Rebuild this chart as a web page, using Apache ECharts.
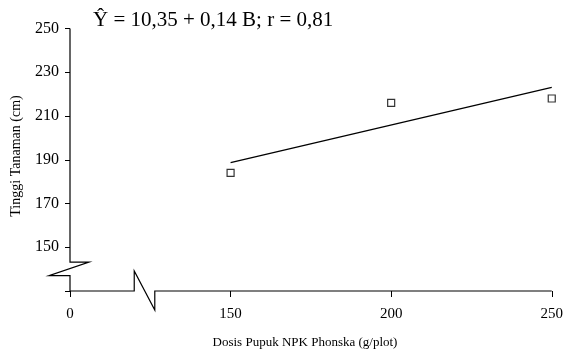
<!DOCTYPE html>
<html>
<head>
<meta charset="utf-8">
<script src="https://cdn.jsdelivr.net/npm/echarts@6/dist/echarts.min.js"></script>
<style>
html,body{margin:0;padding:0;background:#fff;}
#c{width:566px;height:358px;}
</style>
</head>
<body>
<div id="c"></div>
<script>
// ---- data ----
const doses = [150, 200, 250];
const heights = [184, 216, 218];
const fitX = [150, 250];
const fitY = [188.7, 223.1];
// x axis: position 100 on the (broken) axis is labelled "0"
const xTickValues = [100, 150, 200, 250];
const xTickLabels = ['0', '150', '200', '250'];
const yTickLabels = ['150', '170', '190', '210', '230', '250'];
const equation = 'Ŷ = 10,35 + 0,14 B; r = 0,81';
const xName = 'Dosis Pupuk NPK Phonska (g/plot)';
const yName = 'Tinggi Tanaman (cm)';

const FONT = 'Liberation Serif';
const chart = echarts.init(document.getElementById('c'));

chart.setOption({
  animation: false,
  backgroundColor: '#fff',
  grid: {left: 70, right: 13, top: 28.5, bottom: 67},
  title: {
    text: equation,
    left: 88, top: 5,
    textStyle: {fontFamily: FONT, fontSize: 21, fontWeight: 'normal', color: '#000'}
  },
  xAxis: {
    type: 'value', min: 100, max: 250, interval: 50,
    axisLine: {show: false},
    axisTick: {show: true, length: 6, lineStyle: {color: '#000', width: 1}},
    splitLine: {show: false},
    axisLabel: {
      margin: 16, color: '#000', fontFamily: FONT, fontSize: 15,
      formatter: v => { const i = xTickValues.indexOf(v); return i >= 0 ? xTickLabels[i] : ''; }
    }
  },
  yAxis: {
    type: 'value', min: 130, max: 250, interval: 20,
    axisLine: {show: false},
    axisTick: {show: true, length: 5, lineStyle: {color: '#000', width: 1}},
    splitLine: {show: false},
    axisLabel: {
      margin: 11, color: '#000', fontFamily: FONT, fontSize: 16,
      formatter: v => yTickLabels.indexOf(String(v)) >= 0 ? String(v) : ''
    }
  },
  series: [
    {
      type: 'line', data: fitX.map((x, i) => [x, fitY[i]]),
      showSymbol: false, symbol: 'none',
      lineStyle: {color: '#000', width: 1.3}, silent: true, z: 2
    },
    {
      type: 'scatter', data: doses.map((x, i) => [x, heights[i]]),
      symbol: 'rect', symbolSize: 7,
      itemStyle: {color: '#fff', borderColor: '#000', borderWidth: 1.2}, z: 3
    }
  ]
});

// ---- broken axis lines (decoration), positioned through the axes' scales ----
const P = (x, y) => chart.convertToPixel({gridIndex: 0}, [x, y]);
const yTop = P(100, 250), yBreakHi = P(100, 143.2), yBreakLo = P(100, 137), origin = P(100, 130);
const xBreakA = P(120, 130), xBreakB = P(126.4, 130), xEnd = P(250, 130);
const lineStyle = {stroke: '#000', lineWidth: 1.2, fill: null};
chart.setOption({
  graphic: [
    {type: 'polyline', z: 10, silent: true, shape: {points: [
      [yTop[0], yTop[1]],
      [yBreakHi[0], yBreakHi[1]],
      [yBreakHi[0] + 19, yBreakHi[1]],
      [yBreakLo[0] - 21, yBreakLo[1]],
      [yBreakLo[0], yBreakLo[1]],
      [origin[0], origin[1]]
    ]}, style: lineStyle},
    {type: 'polyline', z: 10, silent: true, shape: {points: [
      [origin[0], origin[1]],
      [xBreakA[0], xBreakA[1]],
      [xBreakA[0], xBreakA[1] - 20],
      [xBreakB[0], xBreakB[1] + 19],
      [xBreakB[0], xBreakB[1]],
      [xEnd[0], xEnd[1]]
    ]}, style: lineStyle},
    {type: 'text', z: 10, silent: true, x: 305, y: 343,
      style: {text: xName, fontFamily: FONT, fontSize: 13, fill: '#000', align: 'center', verticalAlign: 'middle'}},
    {type: 'text', z: 10, silent: true, x: 16, y: 156, rotation: Math.PI / 2,
      style: {text: yName, fontFamily: FONT, fontSize: 14, fill: '#000', align: 'center', verticalAlign: 'middle'}}
  ]
});
</script>
</body>
</html>
